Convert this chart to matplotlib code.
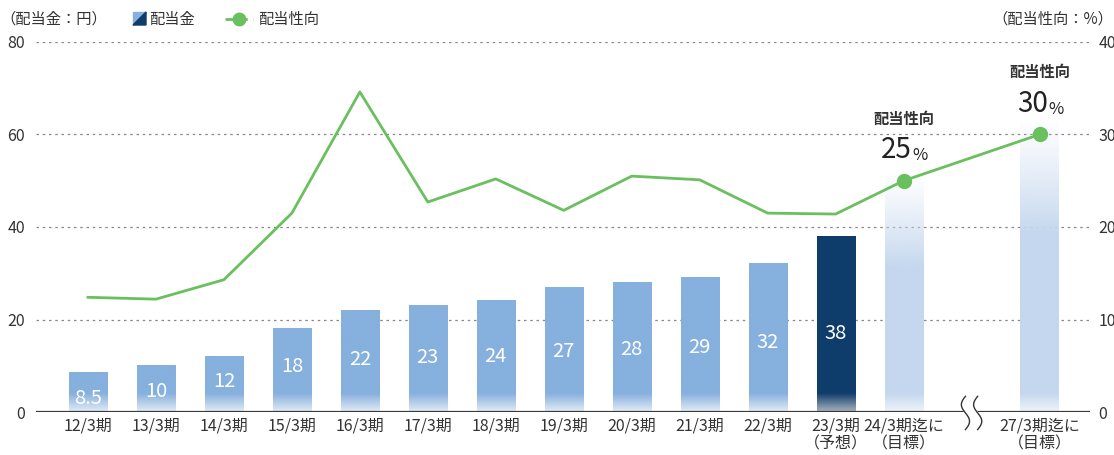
import numpy as np
import matplotlib
matplotlib.use("Agg")
import matplotlib.pyplot as plt
from matplotlib.patches import Polygon
from matplotlib.lines import Line2D
from matplotlib.colors import to_rgb

plt.rcParams['font.family'] = ['Noto Sans CJK JP', 'DejaVu Sans']

# data
periods = ["12/3期", "13/3期", "14/3期", "15/3期", "16/3期", "17/3期", "18/3期",
           "19/3期", "20/3期", "21/3期", "22/3期", "23/3期\n（予想）",
           "24/3期迄に\n（目標）", "27/3期迄に\n（目標）"]
dividends = [8.5, 10, 12, 18, 22, 23, 24, 27, 28, 29, 32, 38]
dividend_labels = ["8.5", "10", "12", "18", "22", "23", "24", "27", "28", "29", "32", "38"]
payout = [12.4, 12.2, 14.3, 21.5, 34.6, 22.7, 25.2, 21.8, 25.5, 25.1, 21.5, 21.4, 25, 30]
goal_bar_tops = [52, 64]
goal_payout_text = ["25", "30"]

xpos = list(range(12)) + [12, 14]
break_x = 13

c_bar = "#86b0dd"
c_dark = "#0f3d6b"
c_goal = "#c4d7ee"
c_green = "#6abf5e"
c_text = "#333333"

fig = plt.figure(figsize=(11.14, 4.55), dpi=100)
ax = fig.add_axes([0.0323, 0.0945, 0.946, 0.8132])
ax2 = ax.twinx()
ax.set_zorder(1)
ax2.set_zorder(2)
ax.patch.set_visible(False)

w = 0.56


def grad_bar(axis, x, top, col, fade_bottom, bottom_col, fade_top=0.0):
    n = 200
    ys = np.linspace(0, top, n)
    rgb = np.array(to_rgb(col))
    brgb = np.array(to_rgb(bottom_col))
    img = np.zeros((n, 1, 4))
    for i, yv in enumerate(ys):
        c = rgb.copy()
        a = 1.0
        if yv < fade_bottom:
            t = yv / fade_bottom
            c = brgb + (rgb - brgb) * t
        if fade_top > 0 and yv > top - fade_top:
            t = (top - yv) / fade_top
            a = t ** 1.2
        img[i, 0, :3] = c
        img[i, 0, 3] = a
    axis.imshow(img, extent=[x - w / 2, x + w / 2, 0, top], origin="lower",
                aspect="auto", interpolation="bilinear", zorder=2)


for i, v in enumerate(dividends):
    if i == 11:
        grad_bar(ax, xpos[i], v, c_dark, 4.0, "#a8b2bf")
    else:
        grad_bar(ax, xpos[i], v, c_bar, 4.0, "#e3ecf7")
    ly = min(v - 5.5, 0.36 * v + 3.4)
    ax.text(xpos[i], ly, dividend_labels[i], color="white", fontsize=14.5,
            ha="center", va="center", zorder=3)

for k, top in enumerate(goal_bar_tops):
    grad_bar(ax, xpos[12 + k], top, c_goal, 4.0, "#eef3fa", fade_top=top * 0.4)

ax.set_xlim(-0.765, 14.74)
ax.set_ylim(0, 80)
ax2.set_ylim(0, 40)

ax.set_yticks([0, 20, 40, 60, 80])
ax2.set_yticks([0, 10, 20, 30, 40])
for y in [20, 40, 60, 80]:
    ax.axhline(y, color="#888888", lw=0.9, ls=(0, (2, 3)), zorder=0)
ax.axhline(0, color="#3a3a3a", lw=1.6, zorder=4)

ax.set_xticks(xpos)
ax.set_xticklabels(periods, fontsize=11.5, color=c_text, linespacing=1.1)
ax.tick_params(axis="x", length=0, pad=4)
ax.tick_params(axis="y", length=0, pad=8, labelsize=11.5, labelcolor=c_text)
ax2.tick_params(axis="y", length=0, pad=6, labelsize=11.5, labelcolor=c_text)
for a in (ax, ax2):
    for s in a.spines.values():
        s.set_visible(False)

# payout ratio line
ax2.plot(xpos, payout, color=c_green, lw=2.0, zorder=5)
ax2.plot(xpos[12:], payout[12:], "o", color=c_green, ms=10, zorder=6)
for k in range(2):
    xx = xpos[12 + k]
    yy = payout[12 + k]
    ax2.annotate(goal_payout_text[k], (xx, yy), xytext=(-5, 11), textcoords="offset points",
                 ha="center", va="bottom", fontsize=20, color="#222222")
    ax2.annotate("%", (xx, yy), xytext=(12, 12), textcoords="offset points",
                 ha="center", va="bottom", fontsize=12, color="#222222")
    ax2.annotate("配当性向", (xx, yy), xytext=(0, 39), textcoords="offset points",
                 ha="center", va="bottom", fontsize=11, fontweight="bold", color="#333333")

# axis break mark
yb = np.linspace(-3.8, 3.4, 60)
s = 0.06 * np.sin((yb + 3.8) / 7.2 * 2 * np.pi)
xl = break_x - 0.09 + s
xr = break_x + 0.09 + s
ax.fill_betweenx(yb, xl, xr, color="white", zorder=5, clip_on=False)
ax.plot(xl, yb, color="#333333", lw=1.0, zorder=6, clip_on=False)
ax.plot(xr, yb, color="#333333", lw=1.0, zorder=6, clip_on=False)

# header texts / legend
fig.text(0.0, 0.958, "（配当金：円）", fontsize=11, color=c_text, va="center")
fig.text(0.999, 0.958, "（配当性向：%）", fontsize=11, color=c_text, va="center", ha="right")
lx0, lx1 = 133 / 1114, 146 / 1114
ly0, ly1 = 1 - 25 / 455, 1 - 12 / 455
fig.patches.append(Polygon([[lx0, ly0], [lx0, ly1], [lx1, ly1]], closed=True,
                           transform=fig.transFigure, color=c_bar))
fig.patches.append(Polygon([[lx0, ly0], [lx1, ly1], [lx1, ly0]], closed=True,
                           transform=fig.transFigure, color=c_dark))
fig.text(149 / 1114, 0.958, "配当金", fontsize=11, color=c_text, va="center")
fig.lines.append(Line2D([225 / 1114, 253 / 1114], [0.958, 0.958], transform=fig.transFigure,
                        color=c_green, lw=2, ls=(0, (3, 2))))
fig.lines.append(Line2D([239 / 1114], [0.958], transform=fig.transFigure,
                        color=c_green, marker="o", ms=9))
fig.text(258 / 1114, 0.958, "配当性向", fontsize=11, color=c_text, va="center")

fig.savefig("out.png", dpi=100)
